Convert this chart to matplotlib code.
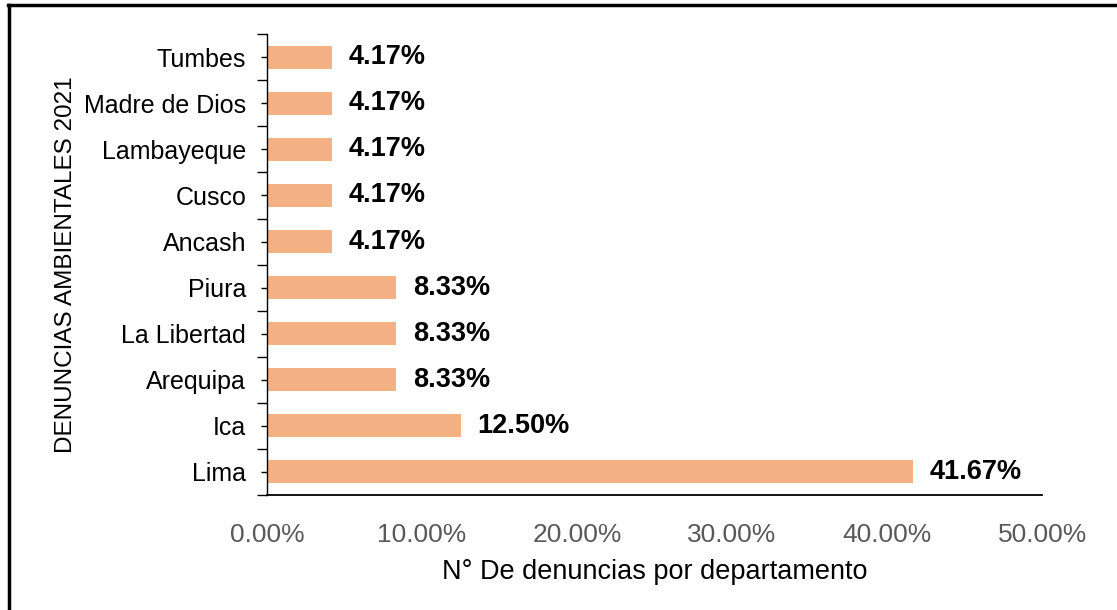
import matplotlib.pyplot as plt
from matplotlib.lines import Line2D
from matplotlib.ticker import PercentFormatter, FixedLocator

# Data (bottom to top)
departamentos = ["Lima", "Ica", "Arequipa", "La Libertad", "Piura",
                 "Ancash", "Cusco", "Lambayeque", "Madre de Dios", "Tumbes"]
porcentajes = [41.67, 12.50, 8.33, 8.33, 8.33, 4.17, 4.17, 4.17, 4.17, 4.17]
xticks = [0, 10, 20, 30, 40, 50]

plt.rcParams['font.family'] = ['Liberation Sans', 'DejaVu Sans']

fig = plt.figure(figsize=(11.17, 6.10), dpi=100)
ax = fig.add_axes([0.239, 0.1885, 0.694, 0.7555])

pos = list(range(len(departamentos)))
ax.barh(pos, porcentajes, height=0.5, color="#F4B183")

for y, v in zip(pos, porcentajes):
    ax.annotate(f"{v:.2f}%", (v, y), xytext=(12, 0), textcoords="offset points",
                va="center", ha="left", fontsize=19.5, fontweight="bold", color="black")

ax.set_xlim(0, 50)
ax.set_ylim(-0.5, len(departamentos) - 0.5)
ax.set_xticks(xticks)
ax.xaxis.set_major_formatter(PercentFormatter(decimals=2))
ax.tick_params(axis="x", length=0, pad=20, labelsize=19, labelcolor="#595959")

ax.set_yticks(pos)
ax.set_yticklabels(departamentos)
ax.yaxis.set_minor_locator(FixedLocator([p - 0.5 for p in pos] + [len(pos) - 0.5]))
ax.tick_params(axis="y", which="major", length=4, width=1, pad=11, labelsize=18)
ax.tick_params(axis="y", which="minor", length=7, width=1)

for s in ["top", "right"]:
    ax.spines[s].set_visible(False)
ax.spines["left"].set_linewidth(1)
ax.spines["bottom"].set_linewidth(1.3)

ax.set_xlabel("N° De denuncias por departamento", fontsize=19.5, labelpad=9)
ax.set_ylabel("DENUNCIAS AMBIENTALES 2021", fontsize=17.5, labelpad=5)

# frame of the cropped screenshot
fig.add_artist(Line2D([8 / 1117, 1], [1 - 5 / 610, 1 - 5 / 610], color="black", lw=2.5))
fig.add_artist(Line2D([9 / 1117, 9 / 1117], [0, 1 - 5 / 610], color="black", lw=2.5))

fig.savefig("out.png", dpi=100)
